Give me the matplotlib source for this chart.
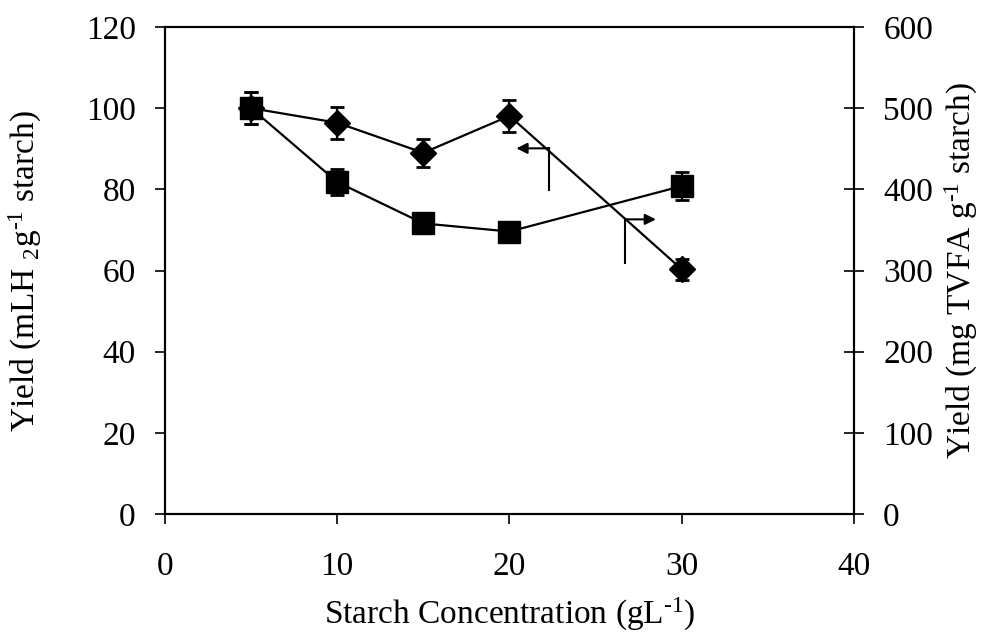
import matplotlib
matplotlib.use("Agg")
import matplotlib.pyplot as plt

plt.rcParams["font.family"] = ["Liberation Serif", "DejaVu Serif"]
plt.rcParams["mathtext.fontset"] = "custom"
plt.rcParams["mathtext.rm"] = "Liberation Serif"
plt.rcParams["mathtext.it"] = "Liberation Serif:italic"

# starch concentration (g/L)
starch = [5, 10, 15, 20, 30]

# hydrogen yield, left axis
h2_yield = [100.0, 96.4, 89.0, 98.1, 60.3]
h2_err = [4.0, 3.9, 3.5, 3.9, 2.6]

# total VFA yield, right axis
tvfa_yield = [500, 409, 358, 348, 404]
tvfa_err = [20, 16, 8, 8, 17]

fig = plt.figure(figsize=(9.87, 6.34), dpi=100)
ax = fig.add_axes([165 / 987, 1 - 514 / 634, (854 - 165) / 987, (514 - 27) / 634])
ax2 = ax.twinx()

ax.errorbar(starch, h2_yield, yerr=h2_err, color="black", marker="D",
            markersize=13, linewidth=1.6, capsize=5, capthick=2,
            elinewidth=1.6, zorder=3)
ax2.errorbar(starch, tvfa_yield, yerr=tvfa_err, color="black", marker="s",
             markersize=16.5, linewidth=1.6, capsize=5, capthick=2,
             elinewidth=1.6, zorder=3)

# arrows pointing each curve to its axis
ax.plot([22.3, 22.3], [79.8, 90.1], color="black", lw=1.5)
ax.annotate("", xy=(20.4, 90.1), xytext=(22.3, 90.1),
            arrowprops=dict(arrowstyle="-|>", color="black", lw=1.5,
                            mutation_scale=16, shrinkA=0, shrinkB=0))
ax.plot([26.7, 26.7], [61.9, 72.6], color="black", lw=1.5)
ax.annotate("", xy=(28.5, 72.6), xytext=(26.7, 72.6),
            arrowprops=dict(arrowstyle="-|>", color="black", lw=1.5,
                            mutation_scale=16, shrinkA=0, shrinkB=0))

ax.set_xlim(0, 40)
ax.set_ylim(0, 120)
ax2.set_ylim(0, 600)
ax.set_xticks([0, 10, 20, 30, 40])
ax.set_yticks(range(0, 121, 20))
ax2.set_yticks(range(0, 601, 100))

for a in (ax, ax2):
    for s in a.spines.values():
        s.set_linewidth(1.5)

ax.tick_params(axis="both", direction="out", length=7, width=1.2,
               labelsize=24, pad=14)
ax.tick_params(axis="x", pad=20)
ax2.tick_params(axis="y", direction="inout", length=14, width=1.2,
                labelsize=24, pad=14)

ax.set_xlabel("Starch Concentration (gL$^{\\text{-1}}$)", fontsize=24, labelpad=10)
ax.set_ylabel("Yield (mLH $_{2}$g$^{\\text{-1}}$ starch)", fontsize=24, labelpad=30)
ax2.set_ylabel("Yield (mg TVFA g$^{\\text{-1}}$ starch)", fontsize=24, labelpad=7)

fig.savefig("out.png", dpi=100)
